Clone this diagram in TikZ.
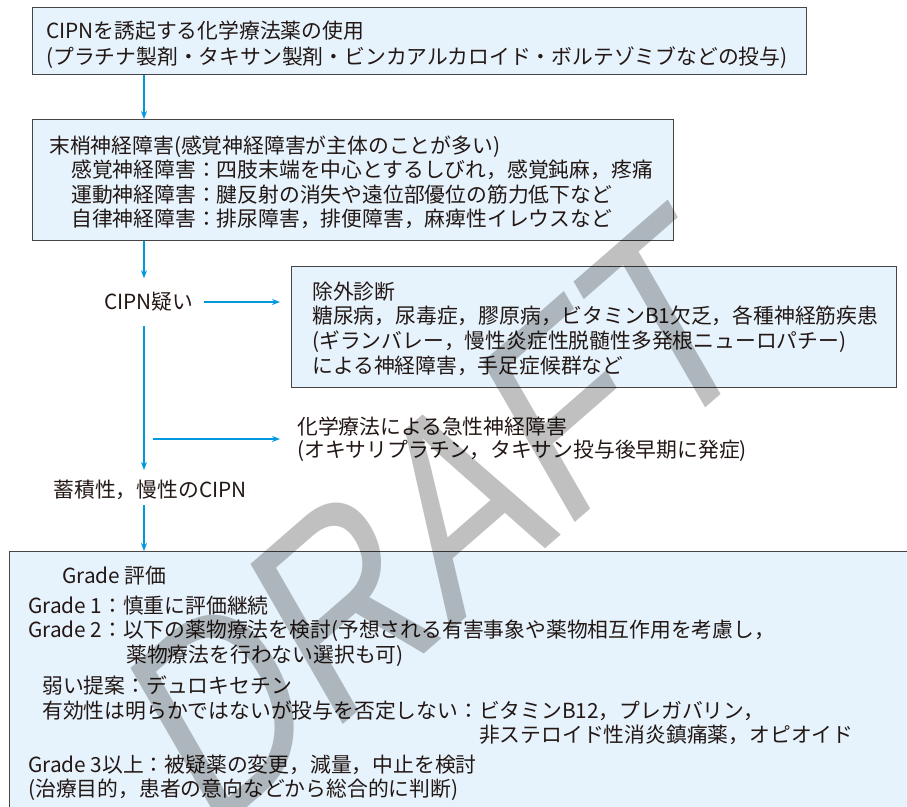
\documentclass[tikz,border=0pt]{standalone}
\usepackage{fontspec}
\setmainfont{Noto Sans CJK JP}
\newfontfamily\wmfont[FakeStretch=0.88]{Liberation Sans}
\usetikzlibrary{arrows.meta}
\definecolor{boxfill}{HTML}{E6F3FC}
\definecolor{boxline}{HTML}{454545}
\definecolor{arrowblue}{HTML}{0099E0}
\definecolor{ink}{HTML}{231815}
\definecolor{wmgray}{HTML}{C0C0C0}
\begin{document}
\begin{tikzpicture}[x=1pt,y=-1pt,
  box/.style={draw=boxline, fill=boxfill, line width=1.3pt, rectangle, inner sep=0pt, anchor=north west},
  txt/.style={inner sep=0pt, anchor=north west, align=left, text=ink, font=\fontsize{20.8}{#1}\selectfont},
  lbl/.style={inner sep=0pt, text=ink, font=\fontsize{20.8}{24}\selectfont},
  conn/.style={draw=arrowblue, line width=1.4pt},
  arr/.style={conn, -{Stealth[length=8pt,width=6pt]}},
  wm/.style={text=wmgray, font=\wmfont\fontsize{232}{232}\selectfont, inner sep=0pt},
]
\useasboundingbox (0,0) rectangle (907,806);
\path[clip] (0,0) rectangle (907,806);

% boxes
\node[box, minimum width=774pt, minimum height=67pt] (box1) at (32,7) {};
\node[box, minimum width=641pt, minimum height=121pt] (box2) at (32,119) {};
\node[box, minimum width=605pt, minimum height=121pt] (box3) at (291,266) {};
\node[box, minimum width=911pt, minimum height=279pt] (box4) at (9,551) {};

% texts
\node[txt=26] (t1) at (46,21) {CIPNを誘起する化学療法薬の使用\\%
(プラチナ製剤・タキサン製剤・ビンカアルカロイド・ボルテゾミブなどの投与)};

\node[txt=24.5] (t2) at (49,135.5) {末梢神経障害(感覚神経障害が主体のことが多い)\\%
\hspace*{22pt}感覚神経障害：四肢末端を中心とするしびれ，感覚鈍麻，疼痛\\%
\hspace*{22pt}運動神経障害：腱反射の消失や遠位部優位の筋力低下など\\%
\hspace*{22pt}自律神経障害：排尿障害，排便障害，麻痺性イレウスなど};

\node[txt=24.7] (t3) at (312,281.5) {除外診断\\%
糖尿病，尿毒症，膠原病，ビタミンB1欠乏，各種神経筋疾患\\%
(ギランバレー，慢性炎症性脱髄性多発根ニューロパチー)\\%
による神経障害，手足症候群など};

\node[lbl, inner xsep=10pt, inner ysep=14pt] (cipn) at (149,302) {CIPN疑い};

\node[txt=23] (chem) at (297,417) {化学療法による急性神経障害\\%
(オキサリプラチン，タキサン投与後早期に発症)};

\node[lbl] (accum) at (150,490) {蓄積性，慢性のCIPN};

\node[txt=24.5] (t4) at (28,566) {\hspace*{34pt}Grade 評価\\[5pt]%
Grade 1：慎重に評価継続\\%
Grade 2：以下の薬物療法を検討(予想される有害事象や薬物相互作用を考慮し，\\%
\hspace*{98pt}薬物療法を行わない選択も可)\\[7pt]%
\hspace*{14pt}弱い提案：デュロキセチン\\%
\hspace*{14pt}有効性は明らかではないが投与を否定しない：ビタミンB12，プレガバリン，\\%
\hspace*{14pt}\hphantom{有効性は明らかではないが投与を否定しない：}非ステロイド性消炎鎮痛薬，オピオイド\\[5pt]%
Grade 3以上：被疑薬の変更，減量，中止を検討\\%
(治療目的，患者の意向などから総合的に判断)};

% connectors
\coordinate (col) at (144,0);
\coordinate (branch) at (153,439);
\draw[arr] (col |- box1.south) -- (col |- box2.north);
\draw[arr] (col |- box2.south) -- (col |- cipn.north);
\draw[arr, shorten >=11pt] (cipn.east) -- (box3.west |- cipn.east);
\draw[arr, shorten >=10pt] (col |- cipn.south) -- (col |- accum.north);
\draw[arr, shorten >=17pt] (branch) -- (chem.west |- branch);
\draw[arr, shorten <=5pt] (col |- accum.south) -- (col |- box4.north);

% watermark
\begin{scope}[blend mode=multiply, shift={(441,519)}, yscale=1.23, rotate=35.3]
\node[wm, transform shape] (draft) at (0,0) {DRAFT};
\end{scope}
\end{tikzpicture}
\end{document}
